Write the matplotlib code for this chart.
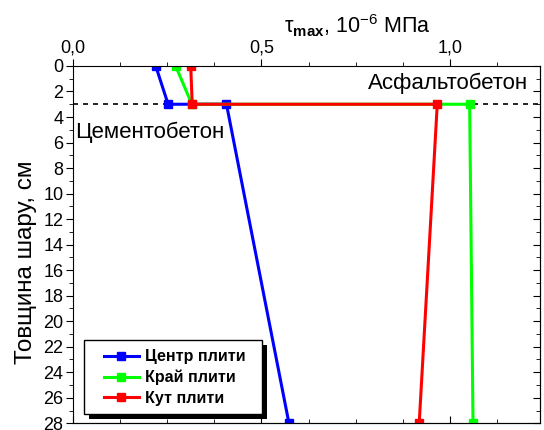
import matplotlib
matplotlib.use("Agg")
import matplotlib.pyplot as plt
from matplotlib.ticker import MultipleLocator, FuncFormatter
from matplotlib.patches import Rectangle

plt.rcParams['font.family'] = ['Liberation Sans', 'DejaVu Sans']
plt.rcParams['mathtext.fontset'] = 'custom'
plt.rcParams['mathtext.rm'] = 'Liberation Sans'
plt.rcParams['mathtext.it'] = 'Liberation Sans:italic'
plt.rcParams['mathtext.bf'] = 'Liberation Sans:bold'

# depth, cm
depth = [0, 3, 3, 28]
# tau_max, 10^-6 MPa
centre = [0.219, 0.252, 0.407, 0.573]
edge = [0.272, 0.315, 1.053, 1.062]
corner = [0.312, 0.316, 0.967, 0.919]

names = ["Центр плити", "Край плити", "Кут плити"]
colors = ["#0000ff", "#00ff00", "#ff0000"]

fig = plt.figure(figsize=(5.44, 4.3), dpi=100)
ax = fig.add_axes([0.1347, 0.0156, 0.858, 0.831])

for vals, name, c in zip([centre, edge, corner], names, colors):
    ax.plot(vals, depth, color=c, lw=2.2, marker="s", ms=6, label=name)

ax.axhline(3, color="black", ls=(0, (3, 3)), lw=1.2, zorder=1)

ax.set_xlim(0, 1.24)
ax.set_ylim(28, 0)

ax.xaxis.set_major_locator(MultipleLocator(0.5))
ax.xaxis.set_minor_locator(MultipleLocator(0.125))
ax.xaxis.set_major_formatter(FuncFormatter(lambda v, p: f"{v:.1f}".replace(".", ",")))
ax.yaxis.set_major_locator(MultipleLocator(2))
ax.yaxis.set_minor_locator(MultipleLocator(1))

ax.tick_params(axis="x", which="both", top=True, bottom=False, labeltop=True,
               labelbottom=False, direction="out", labelsize=13, pad=2)
ax.tick_params(axis="y", which="both", left=True, right=False, direction="out",
               labelsize=13, pad=2)
ax.tick_params(which="major", length=5)
ax.tick_params(which="minor", length=3)

# inward ticks on bottom and right
sec_x = ax.secondary_xaxis("bottom")
sec_x.xaxis.set_major_locator(MultipleLocator(0.5))
sec_x.xaxis.set_minor_locator(MultipleLocator(0.125))
sec_x.tick_params(which="both", direction="in", labelbottom=False)
sec_x.tick_params(which="major", length=5)
sec_x.tick_params(which="minor", length=3)
sec_y = ax.secondary_yaxis("right")
sec_y.yaxis.set_major_locator(MultipleLocator(2))
sec_y.yaxis.set_minor_locator(MultipleLocator(1))
sec_y.tick_params(which="both", direction="in", labelright=False)
sec_y.tick_params(which="major", length=5)
sec_y.tick_params(which="minor", length=3)

fig.text(0.656, 0.94, "τ$_{\\mathbf{max}}$, 10$^{-6}$ МПа", fontsize=15.5,
         ha="center", va="center")
ax.set_ylabel("Товщина шару, см", fontsize=17.5)
ax.yaxis.set_label_coords(-0.078, 0.45)

ax.text(0.975, 0.95, "Асфальтобетон", transform=ax.transAxes, ha="right", va="center", fontsize=16)
ax.text(0.005, 0.815, "Цементобетон", transform=ax.transAxes, ha="left", va="center", fontsize=16)

leg = ax.legend(loc="lower left", bbox_to_anchor=(0.045, 0.022), frameon=False,
                prop={"weight": "bold", "size": 11.5}, handlelength=2.2, borderpad=0.1,
                labelspacing=0.35, handletextpad=0.35)

# box with a hard black shadow, like the original
fig.canvas.draw()
bb = leg.get_window_extent().transformed(ax.transAxes.inverted())
px, py = 1 / ax.bbox.width, 1 / ax.bbox.height
x0, y0 = bb.x0 - 18 * px, bb.y0 - 7 * py
w, h = bb.width + 33 * px, bb.height + 15 * py
ax.add_patch(Rectangle((x0 + 5 * px, y0 - 5 * py), w, h, transform=ax.transAxes,
                       facecolor="black", edgecolor="none", zorder=4))
ax.add_patch(Rectangle((x0, y0), w, h, transform=ax.transAxes,
                       facecolor="white", edgecolor="black", lw=1, zorder=4.5))
leg.set_zorder(5)

fig.savefig("out.png", dpi=100)
